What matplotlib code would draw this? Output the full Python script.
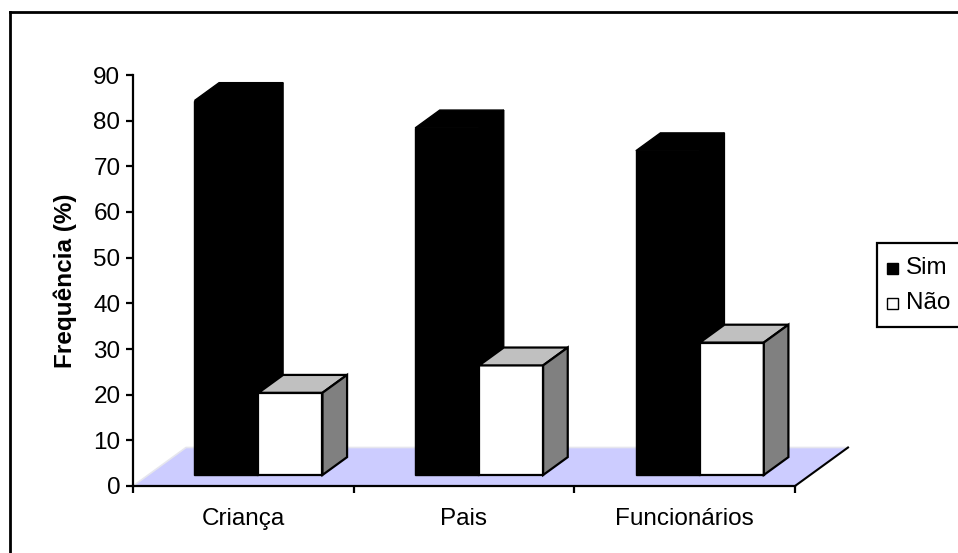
import matplotlib
matplotlib.use("Agg")
import matplotlib.pyplot as plt
from matplotlib.patches import Polygon, Rectangle
from matplotlib.lines import Line2D

plt.rcParams['font.family'] = ['Liberation Sans', 'DejaVu Sans']

categories = ["Criança", "Pais", "Funcionários"]
series_names = ["Sim", "Não"]
sim_values = [82, 76, 71]
nao_values = [18, 24, 29]
y_ticks = list(range(0, 100, 10))

FS = 17.5

W, H = 958, 553
fig = plt.figure(figsize=(W / 100, H / 100), dpi=100)

# plot area: value axis 0..90, three category slots
x0_px, x1_px, y0_px, y1_px = 133, 795, 486, 75
ax = fig.add_axes([x0_px / W, 1 - y0_px / H, (x1_px - x0_px) / W, (y0_px - y1_px) / H])
n = len(categories)
ax.set_xlim(0, n)
ax.set_ylim(0, 90)

# oblique depth projection (data units per unit depth)
px_x = (x1_px - x0_px) / n
px_y = (y0_px - y1_px) / 90
DX = 53 / px_x
DY = 38.5 / px_y


def proj(x, y, d):
    return (x + d * DX, y + d * DY)


# floor
floor = Polygon([proj(0, 0, 0), proj(n, 0, 0), proj(n, 0, 1), proj(0, 0, 1)],
                closed=True, facecolor="#CCCCFF", edgecolor="none", zorder=1, clip_on=False)
ax.add_patch(floor)
ax.plot(*zip(proj(0, 0, 0), proj(0, 0, 1), proj(n, 0, 1)), color="#E6E6EE", lw=1.2,
        zorder=1.5, clip_on=False)
ax.plot(*zip(proj(n, 0, 0), proj(n, 0, 1)), color="black", lw=1.5, zorder=1.5, clip_on=False)

d1, d2 = 0.286, 0.75
bar_w = 0.29
group_left = 0.5 - bar_w


def draw_box(xl, xr, h, front, top, side, edge, lw, z):
    faces = [
        ([proj(xl, 0, d1), proj(xr, 0, d1), proj(xr, h, d1), proj(xl, h, d1)], front),
        ([proj(xl, h, d1), proj(xr, h, d1), proj(xr, h, d2), proj(xl, h, d2)], top),
        ([proj(xr, 0, d1), proj(xr, 0, d2), proj(xr, h, d2), proj(xr, h, d1)], side),
    ]
    for verts, fc in faces:
        ax.add_patch(Polygon(verts, closed=True, facecolor=fc, edgecolor=edge, lw=lw,
                             joinstyle="miter", zorder=z, clip_on=False))


for i in range(n):
    xl = i + group_left
    draw_box(xl, xl + bar_w, sim_values[i], "black", "black", "black", "black", 1.0, 3 + i)
    draw_box(xl + bar_w, xl + 2 * bar_w, nao_values[i], "white", "#C0C0C0", "#808080",
             "black", 1.6, 3.5 + i)

# axes styling
for s in ["top", "right"]:
    ax.spines[s].set_visible(False)
for s in ["left", "bottom"]:
    ax.spines[s].set_linewidth(1.6)
    ax.spines[s].set_zorder(10)
ax.patch.set_visible(False)
ax.set_yticks(y_ticks)
ax.tick_params(axis="y", direction="out", length=5, width=1.6, pad=4, labelsize=FS)
ax.set_xticks(range(n + 1))
ax.set_xticklabels([])
ax.set_xticks([i + 0.5 for i in range(n)], minor=True)
ax.set_xticklabels(categories, minor=True)
ax.tick_params(axis="x", which="major", direction="out", length=5, width=1.6)
ax.tick_params(axis="x", which="minor", length=0, pad=16, labelsize=FS)
ax.set_ylabel("Frequência (%)", fontsize=FS, fontweight="bold", labelpad=12)

# chart border (left and top visible)
fig.add_artist(Line2D([10 / W, 10 / W], [0, 1 - 12 / H], transform=fig.transFigure,
                      color="black", lw=2))
fig.add_artist(Line2D([10 / W, 1], [1 - 12 / H, 1 - 12 / H], transform=fig.transFigure,
                      color="black", lw=2))

# legend
lx, ly_top, ly_bot = 877, 243, 327
fig.add_artist(Rectangle((lx / W, 1 - ly_bot / H), (W + 5 - lx) / W, (ly_bot - ly_top) / H,
                         transform=fig.transFigure, facecolor="white", edgecolor="black",
                         lw=1.6, clip_on=False))
legend_fc = ["black", "white"]
for k, (name, fc) in enumerate(zip(series_names, legend_fc)):
    yc = 268 + k * 35
    fig.add_artist(Rectangle((887 / W, 1 - (yc + 5.5) / H), 11 / W, 11 / H,
                             transform=fig.transFigure, facecolor=fc, edgecolor="black", lw=1))
    fig.text(906 / W, 1 - yc / H, name, fontsize=FS, ha="left", va="center")

fig.savefig("out.png", dpi=100, facecolor="white")
